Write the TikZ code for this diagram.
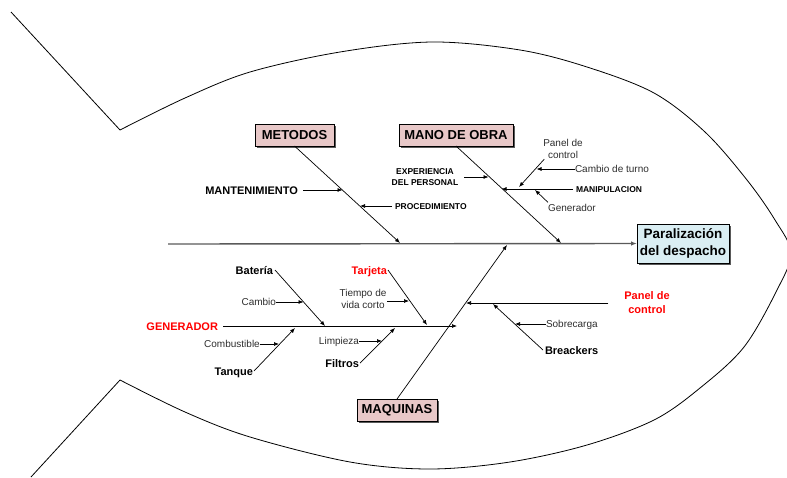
\documentclass[tikz,border=0pt]{standalone}
\usepackage{fontspec}
\setmainfont{Liberation Sans}
\usetikzlibrary{arrows.meta,shadows}
\definecolor{boxpink}{RGB}{232,200,200}
\definecolor{boxblue}{RGB}{218,238,243}
\definecolor{txtgray}{RGB}{45,45,45}
\definecolor{spinegray}{RGB}{90,90,90}
\tikzset{
  every node/.style={inner sep=0pt, outer sep=0pt},
  catbox/.style={draw, line width=0.8pt, fill=boxpink, inner sep=3pt,
    font=\fontsize{13}{15}\selectfont\bfseries, minimum height=22pt,
    drop shadow={shadow xshift=1.5pt, shadow yshift=-1.5pt, fill=black!65, opacity=1}},
  effbox/.style={draw, line width=0.8pt, fill=boxblue, align=center,
    font=\fontsize{13.5}{17}\selectfont\bfseries, minimum width=92pt, minimum height=39pt,
    drop shadow={shadow xshift=1.5pt, shadow yshift=-1.5pt, fill=black!65, opacity=1}},
  bigb/.style={font=\fontsize{11}{13}\selectfont\bfseries, text height=8pt, text depth=0pt},
  smallb/.style={font=\fontsize{8.5}{11}\selectfont\bfseries, text height=6.2pt, text depth=0pt},
  reg/.style={font=\fontsize{10}{12}\selectfont, text=txtgray, text height=7.2pt, text depth=0pt},
  regml/.style={font=\fontsize{10}{12}\selectfont, text=txtgray, align=center},
  redb/.style={font=\fontsize{11}{14}\selectfont\bfseries, text=red},
  arr/.style={-{Latex[length=5pt,width=4pt]}, line width=0.7pt},
  fish/.style={line width=0.8pt, line join=round}
  ,spine/.style={-{Latex[length=6pt,width=4.5pt]}, line width=1.4pt, draw=spinegray}
}
\begin{document}
\begin{tikzpicture}[x=1pt,y=-1pt]
\useasboundingbox (0,0) rectangle (787,477);
\clip (0,0) rectangle (787,477);

% fish outline
\draw[fish] (11,12) -- (120,130);
\draw[fish] (120,380) -- (31,477);
\draw[fish] plot[smooth, tension=0.55] coordinates {(120,130) (185,98) (250,72) (340,52) (432,42) (520,50) (587,67) (654,93) (705,132) (747,180) (775,220) (791,253) (777,290) (744,347) (700,388) (654,420) (587,445) (510,462) (430,469) (350,462) (250,437) (185,412) (120,380)};

% main boxes
\node[catbox, minimum width=79pt] (met) at (294.5,135) {METODOS};
\node[catbox, minimum width=114pt] (mano) at (456,135) {MANO DE OBRA};
\node[catbox, minimum width=80pt] (maq) at (397,410) {MAQUINAS};
\node[effbox] (par) at (683,243.5) {Paralización\\del despacho};

% spine
\coordinate (sp0) at (168,244);
\draw[spine] (sp0) -- (par.west);

% bones
\coordinate (metEnd) at (400,243);
\coordinate (manoEnd) at (561,243);
\coordinate (maqEnd) at (507,245);
\draw[arr] (met.south) -- (metEnd);
\draw[arr] (mano.south) -- (manoEnd);
\draw[arr] (maq.north) -- (maqEnd);

% METODOS causes
\node[bigb, anchor=east] (mant) at (298,190) {MANTENIMIENTO};
\coordinate (mantEnd) at (342.5,190);
\draw[arr] ([xshift=5pt]mant.east) -- (mantEnd);
\node[smallb, anchor=west] (proc) at (395,206) {PROCEDIMIENTO};
\coordinate (procEnd) at (360,206);
\draw[arr] ([xshift=-3pt]proc.west) -- (procEnd);

% MANO DE OBRA causes
\node[font=\fontsize{8.5}{11}\selectfont\bfseries, align=center] (exp) at (425,177) {EXPERIENCIA\\DEL PERSONAL};
\coordinate (expEnd) at (488.5,177);
\draw[arr] ([xshift=6pt]exp.east) -- (expEnd);
\node[smallb, anchor=west] (mani) at (576,189) {MANIPULACION};
\coordinate (maniEnd) at (501.5,189);
\draw[arr] ([xshift=-3pt]mani.west) -- (maniEnd);
\node[regml] (pdc) at (563,148.5) {Panel de\\control};
\coordinate (pdcEnd) at (519,187);
\draw[arr] ([xshift=1pt,yshift=-1pt]pdc.south west) -- (pdcEnd);
\node[reg, anchor=west] (turno) at (575,169) {Cambio de turno};
\coordinate (turnoEnd) at (536.5,169);
\draw[arr] (turno.west) -- (turnoEnd);
\node[reg, anchor=west] (gen) at (548,208) {Generador};
\coordinate (genEnd) at (535,190);
\draw[arr] ([yshift=2pt]gen.north west) -- (genEnd);

% MAQUINAS: GENERADOR sub-bone
\node[redb, anchor=east, text height=8pt, text depth=0pt] (genr) at (218,326) {GENERADOR};
\coordinate (genrEnd) at (457,326);
\draw[arr] ([xshift=5pt]genr.east) -- (genrEnd);

\node[bigb, anchor=east] (bat) at (273,270) {Batería};
\coordinate (batEnd) at (325,326);
\draw[arr] ([xshift=2pt]bat.east) -- (batEnd);
\node[reg, anchor=east] (camb) at (276,302) {Cambio};
\coordinate (cambEnd) at (303.5,302);
\draw[arr] (camb.east) -- (cambEnd);

\node[redb, anchor=east, text height=8pt, text depth=0pt] (tar) at (387,270) {Tarjeta};
\coordinate (tarEnd) at (427,325);
\draw[arr] ([xshift=1pt]tar.east) -- (tarEnd);
\node[regml] (tiem) at (363,299) {Tiempo de\\vida corto};
\coordinate (tiemEnd) at (409,301);
\draw[arr] ([xshift=1pt,yshift=-2pt]tiem.east) -- (tiemEnd);

\node[reg] (comb) at (232,344) {Combustible};
\coordinate (combEnd) at (279,344);
\draw[arr] (comb.east) -- (combEnd);
\node[bigb, anchor=east] (tanq) at (253,371) {Tanque};
\coordinate (tanqEnd) at (295,328);
\draw[arr] ([xshift=1pt]tanq.east) -- (tanqEnd);

\node[reg] (limp) at (339,341) {Limpieza};
\coordinate (limpEnd) at (382,341);
\draw[arr] (limp.east) -- (limpEnd);
\node[bigb, anchor=east] (filt) at (359,363) {Filtros};
\coordinate (filtEnd) at (395,328);
\draw[arr] ([xshift=1pt]filt.east) -- (filtEnd);

% MAQUINAS: Panel de control sub-bone
\node[redb, align=center] (pcr) at (647,303) {Panel de\\control};
\coordinate (pcrEnd) at (466,303);
\draw[arr] ([xshift=-16pt]pcr.west) -- (pcrEnd);
\node[reg, anchor=west] (sobr) at (546,324) {Sobrecarga};
\coordinate (sobrEnd) at (515,324);
\draw[arr] (sobr.west) -- (sobrEnd);
\node[bigb, anchor=west] (brea) at (545,350) {Breackers};
\coordinate (breaEnd) at (493,304);
\draw[arr] ([xshift=-2pt]brea.west) -- (breaEnd);
\end{tikzpicture}
\end{document}
